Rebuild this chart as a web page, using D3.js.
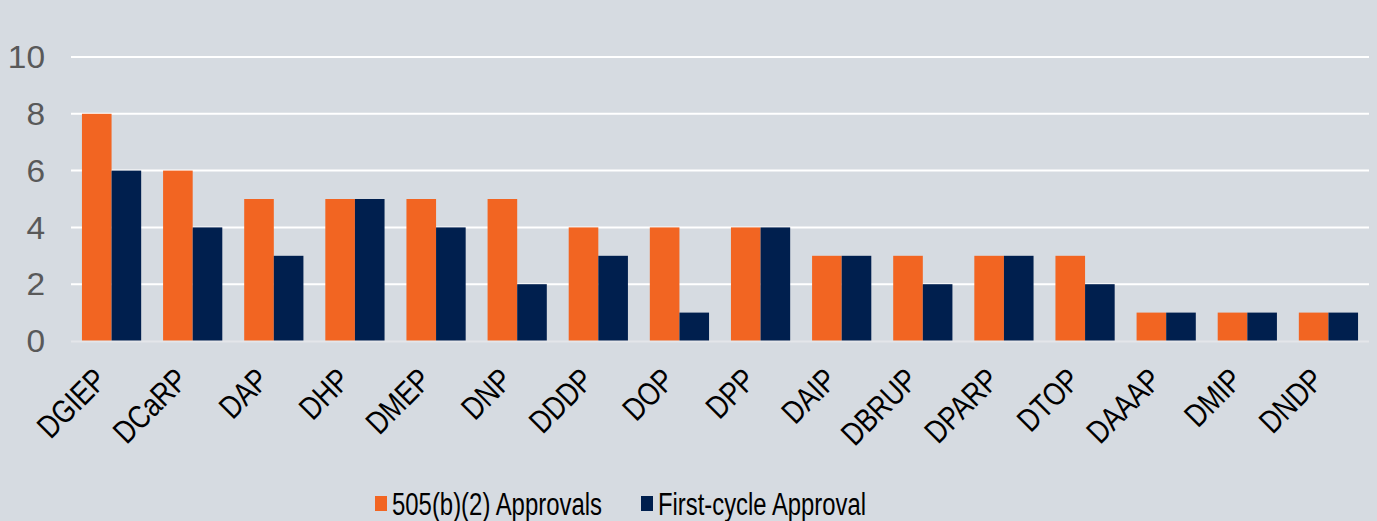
<!DOCTYPE html>
<html>
<head>
<meta charset="utf-8">
<script src="https://cdn.jsdelivr.net/npm/d3@7"></script>
<style>
  body { margin: 0; background: #d6dbe1; }
  svg { display: block; font-family: "Liberation Sans", Arial, sans-serif; }
</style>
</head>
<body>
<script>
var divisions = ["DGIEP", "DCaRP", "DAP", "DHP", "DMEP", "DNP", "DDDP", "DOP", "DPP",
                 "DAIP", "DBRUP", "DPARP", "DTOP", "DAAAP", "DMIP", "DNDP"];
var approvals505 = [8, 6, 5, 5, 5, 5, 4, 4, 4, 3, 3, 3, 3, 1, 1, 1];
var firstCycle   = [6, 4, 3, 5, 4, 2, 3, 1, 4, 3, 2, 3, 2, 1, 1, 1];
var yTicks = [0, 2, 4, 6, 8, 10];
var seriesNames = ["505(b)(2) Approvals", "First-cycle Approval"];
var colors = ["#f26522", "#001f4e"];

var width = 1377, height = 521;
var margin = {left: 71, right: 1369, top: 57, bottom: 341};

var svg = d3.select("body").append("svg")
  .attr("width", width)
  .attr("height", height);

svg.append("rect")
  .attr("width", width)
  .attr("height", height)
  .attr("fill", "#d6dbe1");

var x = d3.scaleBand()
  .domain(divisions)
  .range([margin.left, margin.right])
  .paddingInner(0.27)
  .paddingOuter(0.135);

var xSub = d3.scaleBand()
  .domain([0, 1])
  .range([0, x.bandwidth()]);

var y = d3.scaleLinear()
  .domain([0, 10])
  .range([margin.bottom, margin.top]);

// gridlines
svg.append("g")
  .selectAll("line")
  .data(yTicks.filter(function(d) { return d > 0; }))
  .join("line")
  .attr("x1", margin.left)
  .attr("x2", margin.right)
  .attr("y1", function(d) { return y(d); })
  .attr("y2", function(d) { return y(d); })
  .attr("stroke", "#ffffff")
  .attr("stroke-width", 2);

// y labels
svg.append("g")
  .selectAll("text")
  .data(yTicks)
  .join("text")
  .attr("transform", function(d) { return "translate(45," + y(d) + ") scale(1.08,1)"; })
  .attr("dy", "0.36em")
  .attr("text-anchor", "end")
  .attr("font-size", 31)
  .attr("fill", "#595959")
  .text(function(d) { return d; });

// bars
var series = [approvals505, firstCycle];
var groups = svg.append("g")
  .selectAll("g")
  .data(divisions)
  .join("g")
  .attr("transform", function(d) { return "translate(" + x(d) + ",0)"; });

groups.selectAll("rect")
  .data(function(d, i) { return series.map(function(s, k) { return {k: k, v: s[i]}; }); })
  .join("rect")
  .attr("x", function(d) { return xSub(d.k); })
  .attr("width", xSub.bandwidth())
  .attr("y", function(d) { return y(d.v); })
  .attr("height", function(d) { return y(0) - y(d.v); })
  .attr("fill", function(d) { return colors[d.k]; });

// baseline
svg.append("line")
  .attr("x1", margin.left)
  .attr("x2", margin.right)
  .attr("y1", y(0) + 0.5)
  .attr("y2", y(0) + 0.5)
  .attr("stroke", "#e4e6ea")
  .attr("stroke-width", 2);

// x labels
svg.append("g")
  .selectAll("text")
  .data(divisions)
  .join("text")
  .attr("transform", function(d) {
    return "translate(" + (x(d) + x.bandwidth() / 2 - 3) + ",382) rotate(-45) scale(0.88,1.08)";
  })
  .attr("text-anchor", "end")
  .attr("font-size", 30)
  .attr("fill", "#000000")
  .text(function(d) { return d; });

// legend
var legendX = [375, 641];
var legendW = [210, 208];
var legend = svg.append("g")
  .selectAll("g")
  .data(seriesNames)
  .join("g")
  .attr("transform", function(d, i) { return "translate(" + legendX[i] + ",0)"; });

legend.append("rect")
  .attr("x", 0)
  .attr("y", 496)
  .attr("width", 12)
  .attr("height", 15)
  .attr("fill", function(d, i) { return colors[i]; });

legend.append("text")
  .attr("x", 17)
  .attr("y", 515)
  .attr("font-size", 31)
  .attr("fill", "#000000")
  .attr("textLength", function(d, i) { return legendW[i]; })
  .attr("lengthAdjust", "spacingAndGlyphs")
  .text(function(d) { return d; });
</script>
</body>
</html>
